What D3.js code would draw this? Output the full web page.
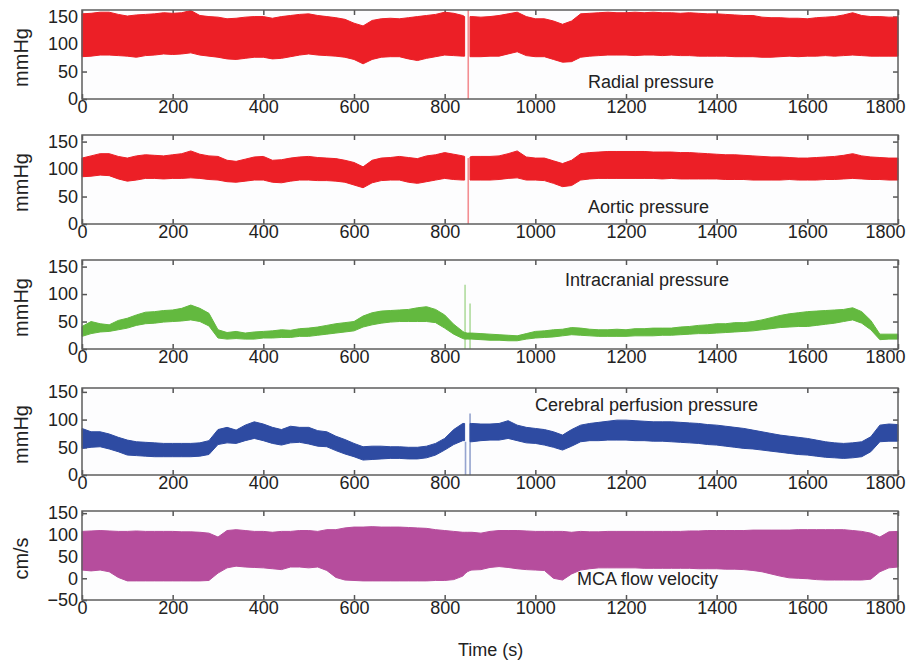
<!DOCTYPE html>
<html>
<head>
<meta charset="utf-8">
<script src="https://cdn.jsdelivr.net/npm/d3@7/dist/d3.min.js"></script>
<style>
  html, body { margin: 0; padding: 0; background: #ffffff; }
  svg { display: block; font-family: "Liberation Sans", Arial, Helvetica, sans-serif; }
</style>
</head>
<body>
<svg id="chart" width="908" height="662"></svg>
<script>
// ---------- DATA ----------
const times = [
  0,20,40,60,80,100,120,140,160,180,
  200,220,240,260,280,300,320,340,360,380,
  400,420,440,460,480,500,520,540,560,580,
  600,620,640,660,680,700,720,740,760,780,
  800,820,840,844,850,856,860,880,900,920,
  940,960,980,1000,1020,1040,1060,1080,1100,1120,
  1140,1160,1180,1200,1220,1240,1260,1280,1300,1320,
  1340,1360,1380,1400,1420,1440,1460,1480,1500,1520,
  1540,1560,1580,1600,1620,1640,1660,1680,1700,1720,
  1740,1760,1780,1800
];
const xTicks = [0,200,400,600,800,1000,1200,1400,1600,1800];
const pressureTicks = [0,50,100,150];
const velocityTicks = [-50,0,50,100,150];

const radialHi = [
  155,156,158,158,154,151,153,154,155,157,
  156,157,161,152,150,149,146,147,149,150,
  150,147,150,152,154,155,152,150,148,145,
  138,133,143,146,147,146,148,150,152,154,
  158,156,152,150,null,150,150,149,150,152,
  155,158,150,146,146,142,136,142,155,156,
  157,158,157,157,158,157,158,157,157,156,
  157,156,155,155,154,153,152,152,149,148,
  148,147,147,146,148,149,150,153,157,152,
  150,150,149,149
];
const radialLo = [
  77,78,80,80,79,78,76,79,80,82,
  81,82,84,80,78,76,73,72,74,76,
  76,73,74,77,80,82,80,79,78,76,
  72,64,72,76,77,77,73,70,74,77,
  80,79,78,78,null,77,77,77,78,78,
  82,86,79,77,77,72,67,68,76,78,
  79,80,80,80,79,80,80,79,80,79,
  79,78,78,78,78,77,77,77,76,76,
  77,78,77,78,78,79,78,79,80,79,
  78,78,78,78
];
const aorticHi = [
  120,124,128,128,123,120,124,126,125,124,
  126,128,133,127,124,123,116,114,118,122,
  123,116,117,120,122,123,121,120,119,116,
  112,104,116,120,121,123,121,119,124,126,
  130,127,124,123,null,122,123,123,123,124,
  128,133,122,120,120,115,110,116,128,130,
  131,132,132,132,132,132,131,131,131,130,
  130,129,128,127,126,126,125,124,123,122,
  122,121,120,120,121,122,123,125,128,124,
  122,121,120,120
];
const aorticLo = [
  86,87,89,88,82,78,80,83,83,82,
  83,83,84,83,81,80,77,76,78,80,
  80,76,75,78,80,80,79,79,78,76,
  71,66,75,79,80,80,76,74,77,80,
  83,81,80,80,null,80,80,80,80,81,
  83,84,80,80,79,74,68,70,80,82,
  83,83,83,83,83,83,83,82,83,82,
  82,82,82,82,81,81,81,80,80,80,
  80,81,80,80,80,81,81,82,83,82,
  81,81,80,80
];
const icpHi = [
  41,50,46,44,52,56,62,67,68,70,
  71,74,80,74,65,35,30,32,29,31,
  32,33,35,34,37,38,40,43,46,48,
  50,60,66,69,70,71,72,75,77,72,
  62,45,32,30,29,29,29,28,27,26,
  25,24,28,32,33,35,36,39,38,36,
  35,35,36,35,37,37,38,38,38,40,
  41,43,44,46,46,48,48,50,53,57,
  61,64,66,68,69,70,71,72,75,68,
  52,27,27,27
];
const icpLo = [
  23,28,31,32,35,38,43,46,47,49,
  50,51,53,50,42,20,18,19,18,18,
  20,20,21,21,23,23,25,27,29,31,
  33,40,44,47,49,50,50,50,50,48,
  38,27,19,18,18,18,18,17,16,16,
  15,15,18,20,21,22,24,26,25,24,
  23,23,23,23,24,24,24,25,25,26,
  27,28,28,29,30,31,32,33,35,37,
  39,40,41,41,43,45,47,50,53,47,
  35,17,18,18
];
const cppHi = [
  84,78,78,74,68,63,60,59,58,57,
  57,57,57,58,62,82,86,81,90,96,
  92,86,82,88,86,86,80,78,70,64,
  57,51,52,52,51,51,50,50,52,57,
  66,82,93,93,null,93,93,92,92,93,
  98,90,86,84,82,78,72,82,90,93,
  95,97,99,99,98,97,96,96,96,95,
  94,93,91,90,88,86,84,81,78,75,
  72,70,68,66,63,60,58,57,58,60,
  69,90,92,91
];
const cppLo = [
  48,50,51,47,42,36,35,34,33,33,
  33,33,33,34,37,55,58,57,62,66,
  62,57,54,58,59,56,52,51,44,38,
  33,27,28,29,30,30,29,29,31,36,
  45,55,62,62,null,60,60,62,63,63,
  66,62,58,57,54,50,45,52,60,62,
  62,63,63,63,62,62,61,61,60,59,
  58,57,55,54,52,50,48,47,45,43,
  41,39,37,36,34,32,31,30,31,33,
  42,60,61,61
];
const mcaHi = [
  108,109,110,109,108,108,109,108,108,108,
  108,107,107,106,104,95,110,112,110,108,
  108,106,108,108,110,110,108,112,112,116,
  118,118,119,118,118,118,117,116,115,112,
  110,108,106,106,106,106,106,104,108,110,
  110,110,109,108,108,108,108,106,108,107,
  107,108,108,108,108,108,108,108,108,108,
  109,109,110,110,110,110,110,111,111,111,
  111,111,112,112,112,112,112,112,110,108,
  104,95,107,108
];
const mcaLo = [
  19,17,19,15,2,-6,-6,-6,-6,-6,
  -6,-6,-6,-6,-5,12,24,28,26,25,
  24,22,20,26,26,24,26,18,2,-4,
  -5,-6,-6,-6,-6,-6,-6,-6,-6,-5,
  -5,-3,5,10,15,18,19,20,25,27,
  25,22,20,19,18,0,-4,10,19,22,
  24,24,24,24,24,23,23,23,23,23,
  23,22,22,22,21,21,20,18,15,10,
  5,1,0,-1,-3,-4,-4,-4,-4,-4,
  -2,15,24,26
];
// artefact spikes: [time, from, to]
const radialSpikes = [[852, 0, 162]];
const aorticSpikes = [[852, 0, 120]];
const icpSpikes = [[845, 0, 117], [856, 0, 83]];
const cppSpikes = [[846, 0, 60], [856, 0, 111]];
const mcaSpikes = [];

const labels = ["Radial pressure","Aortic pressure","Intracranial pressure","Cerebral perfusion pressure","MCA flow velocity"];
const units = ["mmHg","mmHg","mmHg","mmHg","cm/s"];

// ---------- LAYOUT ----------
const L = 82, R = 898;
const panels = [
  {top:10,  bottom:99,  domain:[0,162],  ticks:pressureTicks, hi:radialHi, lo:radialLo, spikes:radialSpikes, color:"#ec1f26", lx:588, ly:88},
  {top:135, bottom:224, domain:[0,162],  ticks:pressureTicks, hi:aorticHi, lo:aorticLo, spikes:aorticSpikes, color:"#ec1f26", lx:588, ly:213},
  {top:260, bottom:349, domain:[0,162],  ticks:pressureTicks, hi:icpHi, lo:icpLo, spikes:icpSpikes, color:"#63b93f", lx:565, ly:286},
  {top:388, bottom:475, domain:[0,157],  ticks:pressureTicks, hi:cppHi, lo:cppLo, spikes:cppSpikes, color:"#2e4ba2", lx:535, ly:411},
  {top:511, bottom:600, domain:[-50,155],ticks:velocityTicks, hi:mcaHi, lo:mcaLo, spikes:mcaSpikes, color:"#b64d9d", lx:577, ly:585}
];

const svg = d3.select("#chart");
const x = d3.scaleLinear().domain([0,1800]).range([L,R]);

panels.forEach((p, i) => {
  const y = d3.scaleLinear().domain(p.domain).range([p.bottom, p.top]);
  const g = svg.append("g");

  // plot background
  g.append("rect").attr("x", L).attr("y", p.top).attr("width", R-L).attr("height", p.bottom-p.top)
    .attr("fill", "#fdfdfe");

  // axes (inward ticks)
  const styleAxis = sel => {
    sel.select(".domain").remove();
    sel.selectAll(".tick line").attr("stroke", "#555").attr("stroke-width", 1.5);
    sel.selectAll(".tick text").attr("fill", "#222").attr("font-size", 18)
      .attr("font-family", "'Liberation Sans', Arial, sans-serif");
  };
  const bx = g.append("g").attr("transform", `translate(0,${p.bottom})`)
    .call(d3.axisBottom(x).tickValues(xTicks).tickSizeInner(-5).tickSizeOuter(0).tickPadding(1).tickFormat(d3.format("d")))
    .call(styleAxis);
  bx.selectAll(".tick text").filter(d => d === 1800).attr("text-anchor", "end").attr("dx", 7);
  g.append("g").attr("transform", `translate(0,${p.top})`)
    .call(d3.axisTop(x).tickValues(xTicks).tickSizeInner(-5).tickSizeOuter(0).tickFormat(""))
    .call(styleAxis);
  const ly = g.append("g").attr("transform", `translate(${L},0)`)
    .call(d3.axisLeft(y).tickValues(p.ticks).tickSizeInner(-5).tickSizeOuter(0).tickPadding(4)
      .tickFormat(d => d < 0 ? "\u2212" + Math.abs(d) : d))
    .call(styleAxis);
  g.append("g").attr("transform", `translate(${R},0)`)
    .call(d3.axisRight(y).tickValues(p.ticks).tickSizeInner(-5).tickSizeOuter(0).tickFormat(""))
    .call(styleAxis);

  // data band
  const rows = times.map((t, k) => ({t, hi: p.hi[k], lo: p.lo[k]}));
  const area = d3.area()
    .defined(d => d.hi != null && d.lo != null)
    .x(d => x(d.t)).y0(d => y(d.lo)).y1(d => y(d.hi));
  g.append("path").datum(rows).attr("d", area)
    .attr("fill", p.color).attr("stroke", p.color).attr("stroke-width", 1).attr("stroke-linejoin", "bevel");

  // artefact spikes
  g.selectAll("line.spike").data(p.spikes).enter().append("line").attr("class", "spike")
    .attr("x1", d => x(d[0])).attr("x2", d => x(d[0]))
    .attr("y1", d => y(d[1])).attr("y2", d => y(d[2]))
    .attr("stroke", p.color).attr("stroke-opacity", 0.5).attr("stroke-width", 1.6);

  // frame
  g.append("rect").attr("x", L).attr("y", p.top).attr("width", R-L).attr("height", p.bottom-p.top)
    .attr("fill", "none").attr("stroke", "#5e5e5e").attr("stroke-width", 1.5);

  // in-plot label
  g.append("text").attr("x", p.lx).attr("y", p.ly).attr("font-size", 18).attr("fill", "#222")
    .text(labels[i]);

  // y-axis unit label
  const cy = (p.top + p.bottom) / 2 + 3;
  g.append("text").attr("transform", `translate(28,${cy}) rotate(-90)`)
    .attr("text-anchor", "middle").attr("font-size", 20).attr("fill", "#222")
    .text(units[i]);
});

svg.append("text").attr("x", 458).attr("y", 656).attr("font-size", 18).attr("fill", "#222").text("Time (s)");
</script>
</body>
</html>
